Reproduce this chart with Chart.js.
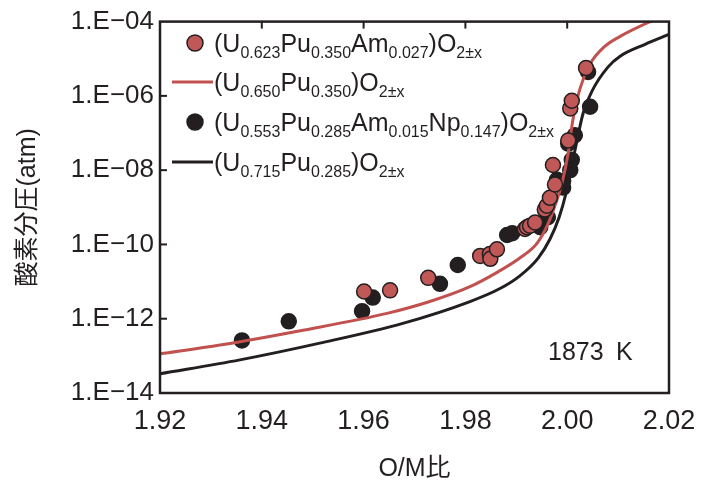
<!DOCTYPE html>
<html>
<head>
<meta charset="utf-8">
<script src="https://cdn.jsdelivr.net/npm/chart.js@4.4.1/dist/chart.umd.min.js"></script>
<style>
html,body{margin:0;padding:0;background:#fff;}
#wrap{width:709px;height:481px;}
</style>
</head>
<body>
<div id="wrap"><canvas id="c" width="709" height="481"></canvas></div>
<script>
// ---- data ----
const xTickValues = [1.92, 1.94, 1.96, 1.98, 2.00, 2.02];
const xTickLabels = ['1.92', '1.94', '1.96', '1.98', '2.00', '2.02'];
const yTickValues = [1e-14, 1e-12, 1e-10, 1e-8, 1e-6, 1e-4];
const yTickLabels = ['1.E\u221214', '1.E\u221212', '1.E\u221210', '1.E\u221208', '1.E\u221206', '1.E\u221204'];

const seriesLabels = [
  '(U_{0.623}Pu_{0.350}Am_{0.027})O_{2\u00b1x}',
  '(U_{0.650}Pu_{0.350})O_{2\u00b1x}',
  '(U_{0.553}Pu_{0.285}Am_{0.015}Np_{0.147})O_{2\u00b1x}',
  '(U_{0.715}Pu_{0.285})O_{2\u00b1x}'
];

const redPtsX = [1.9601, 1.9652, 1.9727, 1.9829, 1.9848, 1.9849, 1.9862, 1.9917, 1.9921, 1.9927, 1.9937, 1.9956, 1.9960, 1.9966, 1.9976, 1.9972, 2.0002, 2.0006, 2.0009, 2.0037];
const redPtsY = [5.4e-12, 5.8e-12, 1.26e-11, 4.9e-11, 5.5e-11, 4.1e-11, 7.4e-11, 2.6e-10, 2.9e-10, 3.2e-10, 3.9e-10, 8.7e-10, 1.1e-9, 1.8e-9, 4.1e-9, 1.38e-8, 6.3e-8, 4.6e-7, 7.4e-7, 5.6e-6];

const blackPtsX = [1.9361, 1.9453, 1.9597, 1.9618, 1.9750, 1.9785, 1.9882, 1.9892, 1.9947, 1.9962, 1.9980, 1.9992, 1.9992, 2.0006, 2.0009, 2.0002, 2.0015, 2.0045, 2.0041];
const blackPtsY = [2.6e-13, 8.5e-13, 1.6e-12, 3.7e-12, 8.7e-12, 2.8e-11, 1.8e-10, 2.0e-10, 2.9e-10, 5.4e-10, 5.5e-9, 3.4e-9, 5.1e-9, 1.0e-8, 1.9e-8, 5.2e-8, 8.7e-8, 5.1e-7, 4.4e-6];

const redCurveX = [1.9200, 1.9318, 1.9481, 1.9646, 1.9730, 1.9809, 1.9864, 1.9907, 1.9941, 1.9962, 1.9978, 1.9990, 2.0002, 2.0011, 2.0025, 2.0045, 2.0074, 2.0104, 2.0163, 2.0200];
const redCurveY = [1.13e-13, 1.95e-13, 4.9e-13, 1.39e-12, 2.9e-12, 7.3e-12, 1.83e-11, 4.3e-11, 1.08e-10, 3.5e-10, 1.34e-9, 4.6e-9, 2.9e-8, 2.2e-7, 1.55e-6, 7.2e-6, 2.16e-5, 4.0e-5, 1.0e-4, 1.63e-4];

const blackCurveX = [1.9200, 1.9357, 1.9514, 1.9677, 1.9809, 1.9868, 1.9907, 1.9943, 1.9966, 1.9984, 1.9998, 2.0008, 2.0019, 2.0031, 2.0049, 2.0080, 2.0104, 2.0153, 2.0200];
const blackCurveY = [3.3e-14, 7.8e-14, 2.2e-13, 7.5e-13, 2.9e-12, 6.5e-12, 1.43e-11, 4.3e-11, 1.38e-10, 5.3e-10, 2.5e-9, 1.15e-8, 6.0e-8, 3.3e-7, 1.37e-6, 5.96e-6, 1.17e-5, 2.44e-5, 4.5e-5];

const xTitle = 'O/M\u6bd4';
const yTitle = '\u9178\u7d20\u5206\u5727(atm)';
const tempLabel = '1873 K';

// ---- styles ----
const RED = '#c05858';
const RED_LINE = '#c0514f';
const DARK = '#231f20';
const FONT = '"Liberation Sans", Arial, "Noto Sans CJK JP", sans-serif';

const zip = (xs, ys) => xs.map((x, i) => ({x: x, y: ys[i]}));

function drawRich(ctx, text, x, y, mainSize, subSize, subDrop) {
  const parts = [];
  const re = /_\{([^}]*)\}/g;
  let last = 0, m;
  while ((m = re.exec(text)) !== null) {
    if (m.index > last) parts.push({t: text.slice(last, m.index), sub: false});
    parts.push({t: m[1], sub: true});
    last = re.lastIndex;
  }
  if (last < text.length) parts.push({t: text.slice(last), sub: false});
  ctx.textBaseline = 'alphabetic';
  ctx.textAlign = 'left';
  let cx = x;
  for (const p of parts) {
    ctx.font = (p.sub ? subSize : mainSize) + 'px ' + FONT;
    ctx.fillText(p.t, cx, p.sub ? y + subDrop : y);
    cx += ctx.measureText(p.t).width;
  }
}

const decor = {
  id: 'decor',
  afterDraw(chart) {
    const ctx = chart.ctx;
    const a = chart.chartArea;
    const xs = chart.scales.x, ys = chart.scales.y;
    ctx.save();
    // frame
    ctx.strokeStyle = DARK;
    ctx.lineWidth = 2.5;
    ctx.strokeRect(a.left, a.top, a.right - a.left, a.bottom - a.top);
    // inward ticks: top axis and left axis
    ctx.lineWidth = 2;
    xTickValues.forEach(v => {
      const px = xs.getPixelForValue(v);
      if (px > a.left + 2 && px < a.right - 2) {
        ctx.beginPath(); ctx.moveTo(px, a.top); ctx.lineTo(px, a.top + 7); ctx.stroke();
      }
    });
    yTickValues.forEach(v => {
      const py = ys.getPixelForValue(v);
      if (py > a.top + 2 && py < a.bottom - 2) {
        ctx.beginPath(); ctx.moveTo(a.left, py); ctx.lineTo(a.left + 7, py); ctx.stroke();
      }
    });
    // axis titles
    ctx.fillStyle = DARK;
    ctx.font = '25px ' + FONT;
    ctx.textAlign = 'center';
    ctx.textBaseline = 'middle';
    ctx.fillText(xTitle, (a.left + a.right) / 2, 469);
    ctx.save();
    ctx.translate(28, (a.top + a.bottom) / 2);
    ctx.rotate(-Math.PI / 2);
    ctx.fillText(yTitle, 0, 0);
    ctx.restore();
    // temperature label
    ctx.font = '25px ' + FONT;
    ctx.textAlign = 'left';
    ctx.fillText(tempLabel.replace(' ', '\u2002'), 548, 353);
    // legend
    const rows = [43, 82, 122, 162];
    const ds = chart.data.datasets;
    rows.forEach((ry, i) => {
      const d = ds[i];
      if (d.type === 'scatter') {
        ctx.beginPath();
        ctx.arc(195, ry, 8, 0, Math.PI * 2);
        ctx.fillStyle = d.backgroundColor;
        ctx.fill();
        ctx.lineWidth = 1.5;
        ctx.strokeStyle = DARK;
        ctx.stroke();
      } else {
        ctx.beginPath();
        ctx.moveTo(172, ry); ctx.lineTo(213, ry);
        ctx.lineWidth = 3;
        ctx.strokeStyle = d.borderColor;
        ctx.stroke();
      }
      ctx.fillStyle = DARK;
      drawRich(ctx, seriesLabels[i], 214, ry + 9, 25, 16, 6);
    });
    ctx.restore();
  }
};

new Chart(document.getElementById('c'), {
  data: {
    datasets: [
      {type: 'scatter', label: seriesLabels[0], data: zip(redPtsX, redPtsY),
       backgroundColor: RED, borderColor: DARK, borderWidth: 1.5, pointRadius: 7.5, pointHoverRadius: 7.5},
      {type: 'line', label: seriesLabels[1], data: zip(redCurveX, redCurveY),
       borderColor: RED_LINE, borderWidth: 3, pointRadius: 0, fill: false, cubicInterpolationMode: 'monotone'},
      {type: 'scatter', label: seriesLabels[2], data: zip(blackPtsX, blackPtsY),
       backgroundColor: DARK, borderColor: DARK, borderWidth: 1.5, pointRadius: 7.5, pointHoverRadius: 7.5},
      {type: 'line', label: seriesLabels[3], data: zip(blackCurveX, blackCurveY),
       borderColor: DARK, borderWidth: 3, pointRadius: 0, fill: false, cubicInterpolationMode: 'monotone'}
    ]
  },
  options: {
    responsive: false,
    animation: false,
    devicePixelRatio: 1,
    layout: {padding: {top: 17, right: 40, left: 0, bottom: 0}},
    plugins: {legend: {display: false}, tooltip: {enabled: false}},
    scales: {
      x: {
        type: 'linear', min: 1.92, max: 2.02,
        grid: {display: false, drawTicks: false},
        border: {display: false},
        afterBuildTicks: s => { s.ticks = xTickValues.map(v => ({value: v})); },
        afterFit: s => { s.height = 88; },
        ticks: {
          autoSkip: false, maxRotation: 0, padding: 12, color: DARK,
          font: {family: FONT, size: 27},
          callback: (v, i) => xTickLabels[i]
        }
      },
      y: {
        type: 'logarithmic', min: 1e-14, max: 1e-4,
        grid: {display: false, drawTicks: false},
        border: {display: false},
        afterBuildTicks: s => { s.ticks = yTickValues.map(v => ({value: v})); },
        afterFit: s => { s.width = 160; },
        ticks: {
          autoSkip: false, padding: 6, color: DARK,
          font: {family: FONT, size: 26},
          callback: (v, i) => yTickLabels[i]
        }
      }
    }
  },
  plugins: [decor]
});
</script>
</body>
</html>
